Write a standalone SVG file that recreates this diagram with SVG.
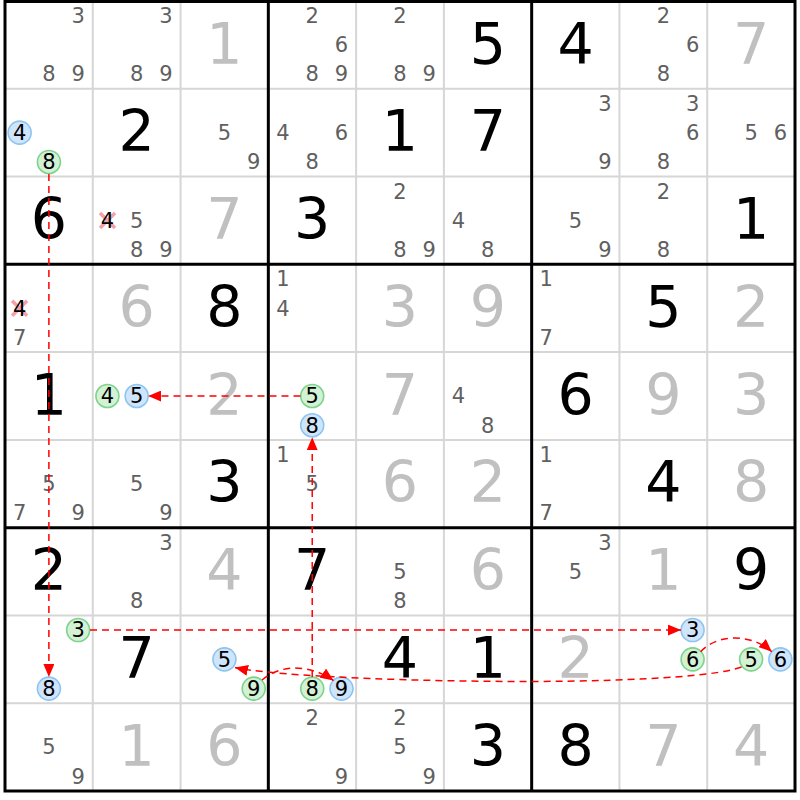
<svg xmlns="http://www.w3.org/2000/svg" width="800" height="800" viewBox="0 0 800 800">
<style>
.g{font-family:"DejaVu Sans","Liberation Sans",sans-serif;font-size:57px;text-anchor:middle;fill:#000}
.s{font-family:"DejaVu Sans","Liberation Sans",sans-serif;font-size:57px;text-anchor:middle;fill:#c0c0c0}
.c{font-family:"DejaVu Sans","Liberation Sans",sans-serif;font-size:21px;text-anchor:middle;fill:#606060}
.k{font-family:"DejaVu Sans","Liberation Sans",sans-serif;font-size:21px;text-anchor:middle;fill:#000}
.thin{stroke:#d6d6d6;stroke-width:2}
.thick{stroke:#000;stroke-width:3}
.blue{fill:#cfe5fb;stroke:#8cc4f2;stroke-width:1.6}
.green{fill:#d3f1d5;stroke:#7dd38c;stroke-width:1.6}
.x{stroke:#f4a0a8;stroke-width:3.5}
.lk{fill:none;stroke:#f00;stroke-width:1.5;stroke-dasharray:7,5;marker-end:url(#ah)}
</style>
<defs>
<marker id="ah" markerUnits="userSpaceOnUse" markerWidth="14" markerHeight="11" refX="13" refY="5.5" orient="auto">
<path d="M0,0 L13,5.5 L0,11 z" fill="#f00"/>
</marker>
</defs>
<rect x="0" y="0" width="800" height="800" fill="#fff"/>
<g id="grid">
<path class="thin" d="M92.78,1V791M180.56,1V791M356.11,1V791M443.89,1V791M619.44,1V791M707.22,1V791M5,88.78H795M5,176.56H795M5,352.11H795M5,439.89H795M5,615.44H795M5,703.22H795"/>
<path class="thick" d="M268.33,1V791M531.67,1V791M5,264.33H795M5,527.67H795"/>
<rect class="thick" x="5" y="1.5" width="790" height="789.5" fill="none"/>
</g>
<g id="r1c1"><text class="c" x="78.15" y="22.9">3</text><text class="c" x="48.89" y="81.4">8</text><text class="c" x="78.15" y="81.4">9</text></g>
<g id="r1c2"><text class="c" x="165.93" y="22.9">3</text><text class="c" x="136.67" y="81.4">8</text><text class="c" x="165.93" y="81.4">9</text></g>
<g id="r1c3"><text class="s" x="224.45" y="63.5">1</text></g>
<g id="r1c4"><text class="c" x="312.22" y="22.9">2</text><text class="c" x="341.48" y="52.2">6</text><text class="c" x="312.22" y="81.4">8</text><text class="c" x="341.48" y="81.4">9</text></g>
<g id="r1c5"><text class="c" x="400" y="22.9">2</text><text class="c" x="400" y="81.4">8</text><text class="c" x="429.26" y="81.4">9</text></g>
<g id="r1c6"><text class="g" x="487.78" y="63.5">5</text></g>
<g id="r1c7"><text class="g" x="575.56" y="63.5">4</text></g>
<g id="r1c8"><text class="c" x="663.33" y="22.9">2</text><text class="c" x="692.59" y="52.2">6</text><text class="c" x="663.33" y="81.4">8</text></g>
<g id="r1c9"><text class="s" x="751.11" y="63.5">7</text></g>
<g id="r2c1"><circle class="blue" cx="19.63" cy="132.67" r="11.5"/><text class="k" x="19.63" y="140">4</text><circle class="green" cx="48.89" cy="161.93" r="11.5"/><text class="k" x="48.89" y="169.2">8</text></g>
<g id="r2c2"><text class="g" x="136.67" y="151.28">2</text></g>
<g id="r2c3"><text class="c" x="224.45" y="140">5</text><text class="c" x="253.71" y="169.2">9</text></g>
<g id="r2c4"><text class="c" x="282.96" y="140">4</text><text class="c" x="341.48" y="140">6</text><text class="c" x="312.22" y="169.2">8</text></g>
<g id="r2c5"><text class="g" x="400" y="151.28">1</text></g>
<g id="r2c6"><text class="g" x="487.78" y="151.28">7</text></g>
<g id="r2c7"><text class="c" x="604.82" y="110.7">3</text><text class="c" x="604.82" y="169.2">9</text></g>
<g id="r2c8"><text class="c" x="692.59" y="110.7">3</text><text class="c" x="692.59" y="140">6</text><text class="c" x="663.33" y="169.2">8</text></g>
<g id="r2c9"><text class="c" x="751.11" y="140">5</text><text class="c" x="780.37" y="140">6</text></g>
<g id="r3c1"><text class="g" x="48.89" y="239.06">6</text></g>
<g id="r3c2"><path class="x" d="M100,213L115,228M100,228L115,213"/><text class="k" x="107.41" y="227.8">4</text><text class="c" x="136.67" y="227.8">5</text><text class="c" x="136.67" y="257">8</text><text class="c" x="165.93" y="257">9</text></g>
<g id="r3c3"><text class="s" x="224.45" y="239.06">7</text></g>
<g id="r3c4"><text class="g" x="312.22" y="239.06">3</text></g>
<g id="r3c5"><text class="c" x="400" y="198.5">2</text><text class="c" x="400" y="257">8</text><text class="c" x="429.26" y="257">9</text></g>
<g id="r3c6"><text class="c" x="458.52" y="227.8">4</text><text class="c" x="487.78" y="257">8</text></g>
<g id="r3c7"><text class="c" x="575.56" y="227.8">5</text><text class="c" x="604.82" y="257">9</text></g>
<g id="r3c8"><text class="c" x="663.33" y="198.5">2</text><text class="c" x="663.33" y="257">8</text></g>
<g id="r3c9"><text class="g" x="751.11" y="239.06">1</text></g>
<g id="r4c1"><path class="x" d="M12.1,300.7L27.1,315.7M12.1,315.7L27.1,300.7"/><text class="k" x="19.63" y="315.5">4</text><text class="c" x="19.63" y="344.7">7</text></g>
<g id="r4c2"><text class="s" x="136.67" y="326.83">6</text></g>
<g id="r4c3"><text class="g" x="224.45" y="326.83">8</text></g>
<g id="r4c4"><text class="c" x="282.96" y="286.2">1</text><text class="c" x="282.96" y="315.5">4</text></g>
<g id="r4c5"><text class="s" x="400" y="326.83">3</text></g>
<g id="r4c6"><text class="s" x="487.78" y="326.83">9</text></g>
<g id="r4c7"><text class="c" x="546.3" y="286.2">1</text><text class="c" x="546.3" y="344.7">7</text></g>
<g id="r4c8"><text class="g" x="663.33" y="326.83">5</text></g>
<g id="r4c9"><text class="s" x="751.11" y="326.83">2</text></g>
<g id="r5c1"><text class="g" x="48.89" y="414.61">1</text></g>
<g id="r5c2"><circle class="green" cx="107.41" cy="396" r="11.5"/><text class="k" x="107.41" y="403.3">4</text><circle class="blue" cx="136.67" cy="396" r="11.5"/><text class="k" x="136.67" y="403.3">5</text></g>
<g id="r5c3"><text class="s" x="224.45" y="414.61">2</text></g>
<g id="r5c4"><circle class="green" cx="312.22" cy="396" r="11.5"/><text class="k" x="312.22" y="403.3">5</text><circle class="blue" cx="312.22" cy="425.26" r="11.5"/><text class="k" x="312.22" y="432.5">8</text></g>
<g id="r5c5"><text class="s" x="400" y="414.61">7</text></g>
<g id="r5c6"><text class="c" x="458.52" y="403.3">4</text><text class="c" x="487.78" y="432.5">8</text></g>
<g id="r5c7"><text class="g" x="575.56" y="414.61">6</text></g>
<g id="r5c8"><text class="s" x="663.33" y="414.61">9</text></g>
<g id="r5c9"><text class="s" x="751.11" y="414.61">3</text></g>
<g id="r6c1"><text class="c" x="48.89" y="491.1">5</text><text class="c" x="19.63" y="520.3">7</text><text class="c" x="78.15" y="520.3">9</text></g>
<g id="r6c2"><text class="c" x="136.67" y="491.1">5</text><text class="c" x="165.93" y="520.3">9</text></g>
<g id="r6c3"><text class="g" x="224.45" y="502.39">3</text></g>
<g id="r6c4"><text class="c" x="282.96" y="461.8">1</text><text class="c" x="312.22" y="491.1">5</text></g>
<g id="r6c5"><text class="s" x="400" y="502.39">6</text></g>
<g id="r6c6"><text class="s" x="487.78" y="502.39">2</text></g>
<g id="r6c7"><text class="c" x="546.3" y="461.8">1</text><text class="c" x="546.3" y="520.3">7</text></g>
<g id="r6c8"><text class="g" x="663.33" y="502.39">4</text></g>
<g id="r6c9"><text class="s" x="751.11" y="502.39">8</text></g>
<g id="r7c1"><text class="g" x="48.89" y="590.17">2</text></g>
<g id="r7c2"><text class="c" x="165.93" y="549.6">3</text><text class="c" x="136.67" y="608.1">8</text></g>
<g id="r7c3"><text class="s" x="224.45" y="590.17">4</text></g>
<g id="r7c4"><text class="g" x="312.22" y="590.17">7</text></g>
<g id="r7c5"><text class="c" x="400" y="578.9">5</text><text class="c" x="400" y="608.1">8</text></g>
<g id="r7c6"><text class="s" x="487.78" y="590.17">6</text></g>
<g id="r7c7"><text class="c" x="604.82" y="549.6">3</text><text class="c" x="575.56" y="578.9">5</text></g>
<g id="r7c8"><text class="s" x="663.33" y="590.17">1</text></g>
<g id="r7c9"><text class="g" x="751.11" y="590.17">9</text></g>
<g id="r8c1"><circle class="green" cx="78.15" cy="630.07" r="11.5"/><text class="k" x="78.15" y="637.4">3</text><circle class="blue" cx="48.89" cy="688.59" r="11.5"/><text class="k" x="48.89" y="695.8">8</text></g>
<g id="r8c2"><text class="g" x="136.67" y="677.94">7</text></g>
<g id="r8c3"><circle class="blue" cx="224.45" cy="659.33" r="11.5"/><text class="k" x="224.45" y="666.6">5</text><circle class="green" cx="253.71" cy="688.59" r="11.5"/><text class="k" x="253.71" y="695.8">9</text></g>
<g id="r8c4"><circle class="green" cx="312.22" cy="688.59" r="11.5"/><text class="k" x="312.22" y="695.8">8</text><circle class="blue" cx="341.48" cy="688.59" r="11.5"/><text class="k" x="341.48" y="695.8">9</text></g>
<g id="r8c5"><text class="g" x="400" y="677.94">4</text></g>
<g id="r8c6"><text class="g" x="487.78" y="677.94">1</text></g>
<g id="r8c7"><text class="s" x="575.56" y="677.94">2</text></g>
<g id="r8c8"><circle class="blue" cx="692.59" cy="630.07" r="11.5"/><text class="k" x="692.59" y="637.4">3</text><circle class="green" cx="692.59" cy="659.33" r="11.5"/><text class="k" x="692.59" y="666.6">6</text></g>
<g id="r8c9"><circle class="green" cx="751.11" cy="659.33" r="11.5"/><text class="k" x="751.11" y="666.6">5</text><circle class="blue" cx="780.37" cy="659.33" r="11.5"/><text class="k" x="780.37" y="666.6">6</text></g>
<g id="r9c1"><text class="c" x="48.89" y="754.4">5</text><text class="c" x="78.15" y="783.6">9</text></g>
<g id="r9c2"><text class="s" x="136.67" y="765.72">1</text></g>
<g id="r9c3"><text class="s" x="224.45" y="765.72">6</text></g>
<g id="r9c4"><text class="c" x="312.22" y="725.1">2</text><text class="c" x="341.48" y="783.6">9</text></g>
<g id="r9c5"><text class="c" x="400" y="725.1">2</text><text class="c" x="400" y="754.4">5</text><text class="c" x="429.26" y="783.6">9</text></g>
<g id="r9c6"><text class="g" x="487.78" y="765.72">3</text></g>
<g id="r9c7"><text class="g" x="575.56" y="765.72">8</text></g>
<g id="r9c8"><text class="s" x="663.33" y="765.72">7</text></g>
<g id="r9c9"><text class="s" x="751.11" y="765.72">4</text></g>
<g id="links">
<path class="lk" d="M48.89,174L48.89,677"/>
<path class="lk" d="M90,630.07L681,630.07"/>
<path class="lk" d="M700.6,651.8C715,635 750,632 771.8,651.8"/>
<path class="lk" d="M741.5,667C680,690 300,682 235,667.5"/>
<path class="lk" d="M262,680C280,664 310,664 333.5,680.6"/>
<path class="lk" d="M312.22,677L312.22,437.2"/>
<path class="lk" d="M300.5,396L148.2,396"/>
</g>
</svg>
